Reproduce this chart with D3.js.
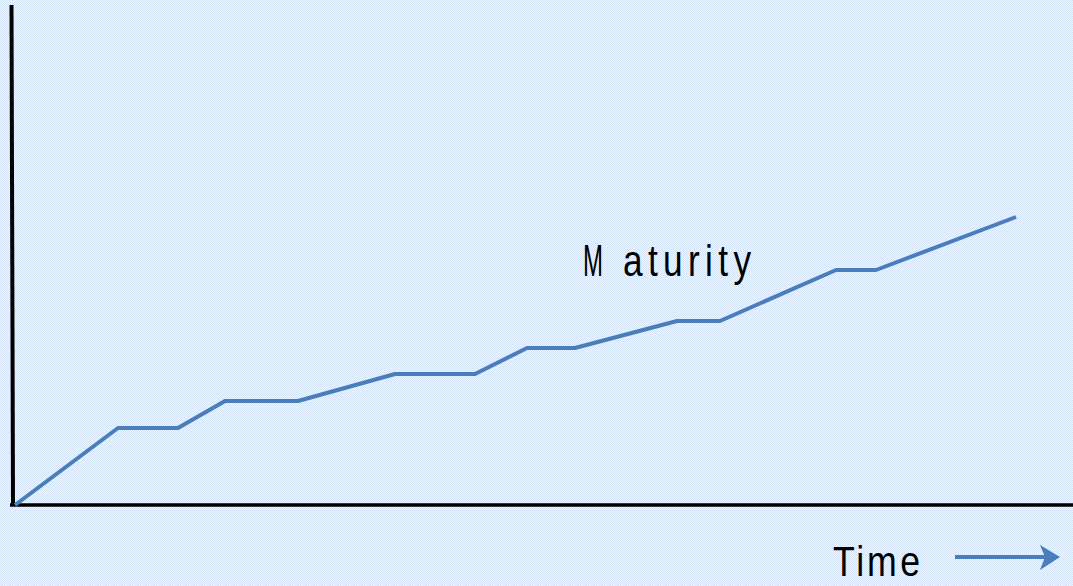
<!DOCTYPE html>
<html lang="en">
<head>
<meta charset="UTF-8">
<script src="https://cdn.jsdelivr.net/npm/d3@7"></script>
<title>Maturity over time</title>
<style>
    body { margin: 0; background: #e3edf9; }
    svg { display: block; }
    .lbl { font-family: "Liberation Sans", Arial, sans-serif; fill: #000; }
</style>
</head>
<body>
<div id="chart"></div>
<script>
// time (arbitrary units) and maturity level
var time     = [0.2, 10.5, 16.5, 21.2, 28.5, 38.2, 46.2, 51.4, 56.2, 66.4, 70.7, 82.3, 86.3, 100.3];
var maturity = [0, 15.4, 15.4, 20.8, 20.8, 26.2, 26.2, 31.4, 31.4, 36.8, 36.8, 47.0, 47.0, 57.6];

var W = 1073, H = 586;

var svg = d3.select("#chart").append("svg")
    .attr("width", W)
    .attr("height", H);

// dithered light-blue backdrop
var defs = svg.append("defs");
var pat = defs.append("pattern")
    .attr("id", "dots")
    .attr("width", 2).attr("height", 2)
    .attr("patternUnits", "userSpaceOnUse");
pat.append("rect").attr("width", 2).attr("height", 2).attr("fill", "#f1f6fd");
pat.append("rect").attr("width", 1).attr("height", 1).attr("fill", "#d3e2f5");
pat.append("rect").attr("x", 1).attr("y", 1).attr("width", 1).attr("height", 1).attr("fill", "#d3e2f5");
svg.append("rect").attr("width", W).attr("height", H).attr("fill", "url(#dots)");

var x = d3.scaleLinear().domain([0, 100]).range([13, 1013]);
var y = d3.scaleLinear().domain([0, 100]).range([505, 5]);

// axes: plain black lines, no ticks
svg.append("line")
    .attr("x1", 11.5).attr("y1", y(100))
    .attr("x2", 13).attr("y2", y(0))
    .attr("stroke", "#000").attr("stroke-width", 4);
svg.append("line")
    .attr("x1", 10).attr("y1", y(0))
    .attr("x2", W).attr("y2", y(0))
    .attr("stroke", "#000").attr("stroke-width", 3.5);

var line = d3.line()
    .x(function(d, i) { return x(time[i]); })
    .y(function(d) { return y(d); });

svg.append("path")
    .datum(maturity)
    .attr("d", line)
    .attr("fill", "none")
    .attr("stroke", "#4a7ebb")
    .attr("stroke-width", 4)
    .attr("stroke-linejoin", "round");

// series label (condensed, loosely spaced lettering)
var t = svg.append("text")
    .attr("class", "lbl")
    .attr("transform", "translate(583,276) scale(0.8,1)")
    .attr("font-size", 44);
t.append("tspan").attr("x", 0).text("M")
    .attr("textLength", 25).attr("lengthAdjust", "spacingAndGlyphs");
t.append("tspan").attr("x", 50).text("aturity")
    .attr("textLength", 160).attr("lengthAdjust", "spacing");

// x label with arrow
var tt = svg.append("text")
    .attr("class", "lbl")
    .attr("transform", "translate(833,576) scale(0.85,1)")
    .attr("font-size", 42);
tt.append("tspan").attr("x", 0).text("Tim")
    .attr("textLength", 75).attr("lengthAdjust", "spacing");
tt.append("tspan").attr("x", 79).text("e");

svg.append("line")
    .attr("x1", 955).attr("y1", 557)
    .attr("x2", 1046).attr("y2", 557)
    .attr("stroke", "#4a7ebb").attr("stroke-width", 4);
svg.append("path")
    .attr("d", "M1040,545 L1060,557 L1040,570 L1045,557 Z")
    .attr("fill", "#4a7ebb");
</script>
</body>
</html>
